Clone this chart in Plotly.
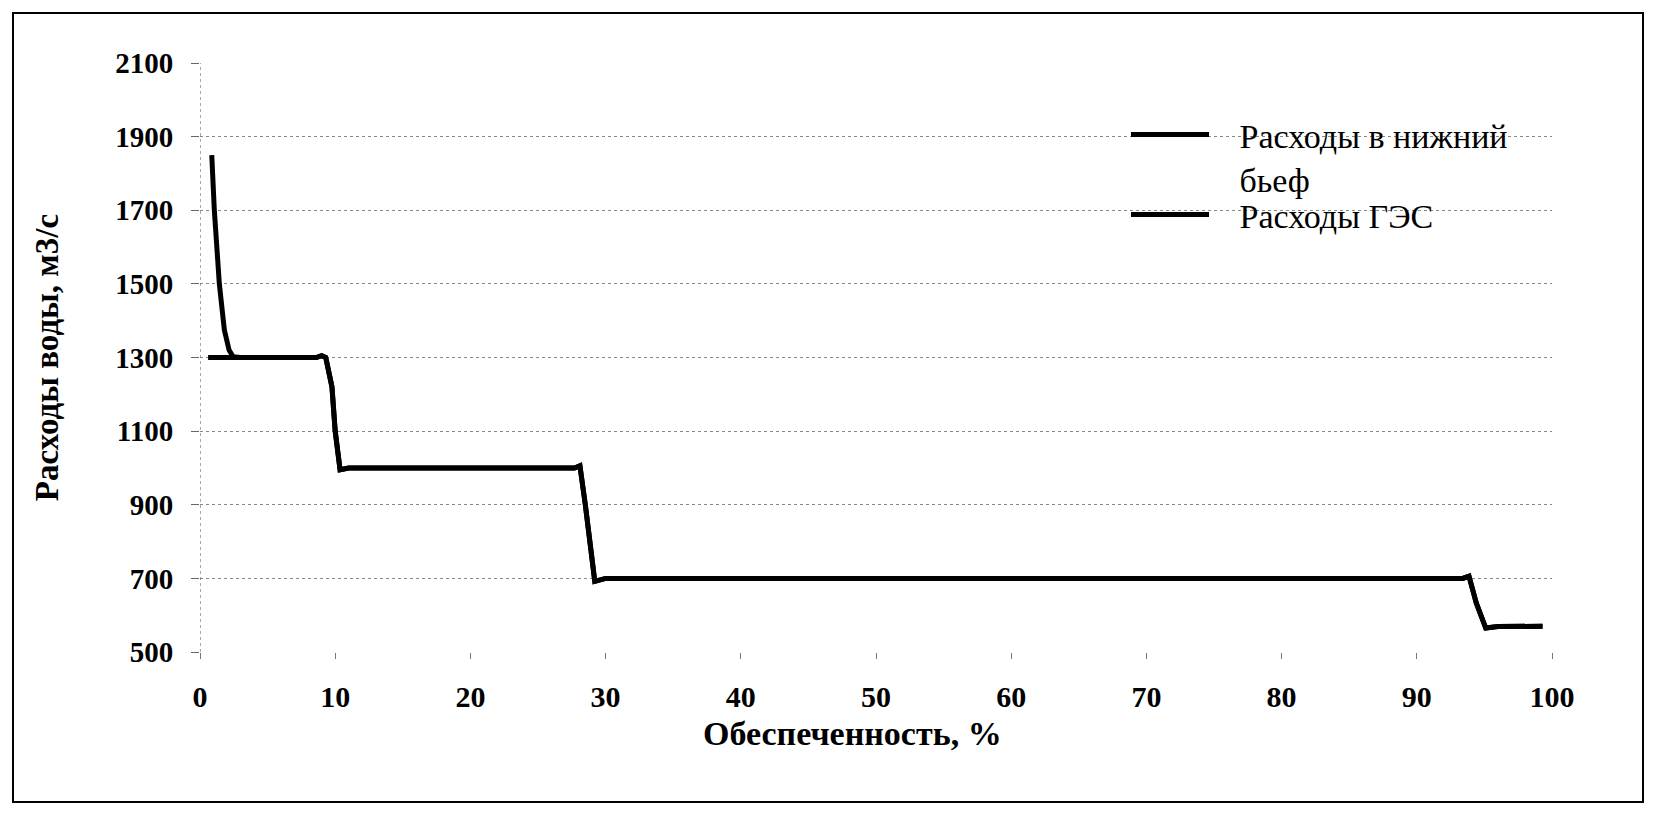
import plotly.graph_objects as go

# Обеспеченность, % and расходы, м3/с
x_bief = [0.87, 1.06, 1.43, 1.8, 2.15, 2.45, 3.0, 8.6, 9.0, 9.3, 9.76, 10.0, 10.36, 11.0, 27.7, 28.1, 28.5, 28.85, 29.2, 30.0, 93.4, 93.86, 94.4, 95.1, 96.0, 99.3]
y_bief = [1850, 1700, 1500, 1375, 1320, 1302, 1300, 1300, 1305, 1300, 1220, 1100, 995, 1000, 1000, 1006, 900, 785, 692, 700, 700, 706, 633, 565, 569, 570]

x_ges = [0.6, 2.45, 3.0, 8.6, 9.0, 9.3, 9.76, 10.0, 10.36, 11.0, 27.7, 28.1, 28.5, 28.85, 29.2, 30.0, 93.4, 93.86, 94.4, 95.1, 96.0, 99.3]
y_ges = [1300, 1300, 1300, 1300, 1305, 1300, 1220, 1100, 995, 1000, 1000, 1006, 900, 785, 692, 700, 700, 706, 633, 565, 569, 570]

x_ticks = [0, 10, 20, 30, 40, 50, 60, 70, 80, 90, 100]
y_ticks = [500, 700, 900, 1100, 1300, 1500, 1700, 1900, 2100]

GAP = "\u00a0\u00a0\u00a0"
name_bief = GAP + "Расходы в нижний<br>" + GAP + "бьеф"
name_ges = GAP + "Расходы ГЭС"
x_title = "Обеспеченность, %"
y_title = "Расходы воды, м3/с"

SERIF = "Liberation Serif, Times New Roman, serif"

# page body has an 8px margin; figure coordinates below are screen - 8
W, H = 1646, 805
L, T = 192, 55
PW, PH = 1352, 589
R, B = W - L - PW, H - T - PH

def px(xf):
    return (xf - L) / PW

def py(yf):
    return (T + PH - yf) / PH

fig = go.Figure()
fig.add_trace(go.Scatter(x=x_ges, y=y_ges, mode="lines", name=name_ges, legend="legend2",
                         line=dict(color="black", width=5)))
fig.add_trace(go.Scatter(x=x_bief, y=y_bief, mode="lines", name=name_bief, legend="legend",
                         line=dict(color="black", width=5)))

leg_common = dict(xanchor="left", yanchor="top",
                  font=dict(family=SERIF, size=34, color="black"),
                  valign="top", bgcolor="rgba(0,0,0,0)", itemwidth=78)

fig.update_layout(
    width=W, height=H,
    margin=dict(l=L, r=R, t=T, b=B),
    paper_bgcolor="white", plot_bgcolor="white",
    font=dict(family=SERIF, color="black"),
    showlegend=True,
    legend=dict(x=px(1118), y=py(98), **leg_common),
    legend2=dict(x=px(1118), y=py(178), **leg_common),
    xaxis=dict(range=[0, 100], tickvals=x_ticks, ticktext=[str(v) for v in x_ticks],
               showgrid=False, zeroline=False, showline=False,
               ticks="outside", ticklen=6, tickcolor="#777", tickwidth=1,
               tickfont=dict(family=SERIF, size=30, color="black", weight="bold"),
               ticklabelstandoff=12),
    yaxis=dict(range=[500, 2100], tickvals=y_ticks, ticktext=[str(v) for v in y_ticks],
               showgrid=True, gridcolor="#888", griddash="dot", gridwidth=1,
               zeroline=False, showline=False,
               ticks="outside", ticklen=8, tickcolor="#666", tickwidth=1,
               tickfont=dict(family=SERIF, size=29, color="black", weight="bold"),
               ticklabelstandoff=12,
               title=dict(text="<b>" + y_title + "</b>", standoff=46,
                          font=dict(family=SERIF, size=33, color="black"))),
    annotations=[
        dict(text="<b>" + x_title + "</b>", xref="paper", yref="paper",
             x=px(844), y=py(725), xanchor="center", yanchor="middle",
             showarrow=False, font=dict(family=SERIF, size=34, color="black")),
    ],
    shapes=[
        dict(type="line", xref="x", yref="paper", x0=0, x1=0, y0=0, y1=1,
             line=dict(color="#555", width=1, dash="dot")),
        dict(type="rect", xref="paper", yref="paper",
             x0=px(5), x1=px(1635), y0=py(794), y1=py(5),
             line=dict(color="black", width=2)),
    ],
)

fig.write_html("out.html")
